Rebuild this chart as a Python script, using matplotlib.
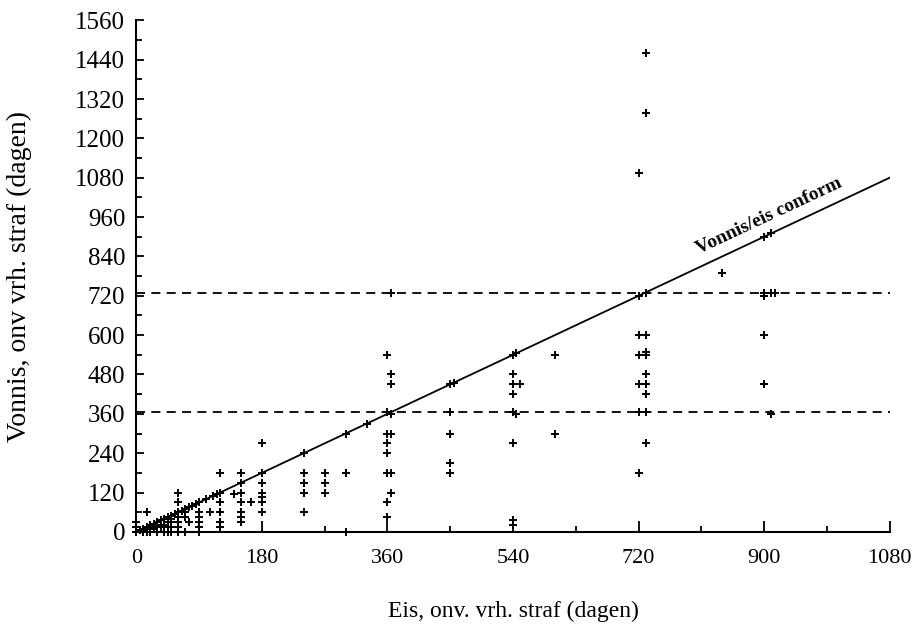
import numpy as np
import matplotlib.pyplot as plt
from matplotlib.ticker import MultipleLocator

plt.rcParams['font.family'] = ['Liberation Serif', 'DejaVu Serif']

# eis (x) en vonnis (y), onvoorwaardelijke vrijheidsstraf in dagen
eis = [730, 730, 720,
       900, 910, 840,
       720, 730, 900, 900, 910, 915,
       900, 900, 910,
       720, 730, 720, 730, 730, 730, 720, 730, 730, 720, 730, 730, 720,
       600, 600,
       540, 545, 540, 540, 550, 540, 540, 545, 540, 540, 540,
       450, 455, 450, 450, 450, 450,
       365, 360, 365, 365, 360, 365, 360, 365, 360, 360, 360, 365, 365, 360, 360,
       330, 300, 300, 300,
       270, 270, 270,
       240, 240, 240, 240, 240,
       180, 180, 180, 180, 180, 180, 180,
       150, 150, 150, 150, 165, 150, 150, 150,
       140,
       120, 120, 120, 120, 120, 120,
       105,
       90, 90, 90, 90, 90, 90,
       60, 60, 60, 60, 60, 60, 60,
       70, 70, 75, 15,
       0, 5, 10, 15, 20, 25, 30, 35, 40, 45, 50, 55, 65, 70, 75, 80, 85, 100, 110, 115,
       0, 10, 15, 20, 30, 40, 45, 50, 70,
       20, 30, 40, 45, 50, 40, 45, 50, 50, 20, 0, 0, 10, 30, 35, 25]
vonnis = [1460, 1278, 1095,
          900, 910, 790,
          720, 730, 730, 720, 730, 730,
          600, 450, 360,
          600, 600, 540, 540, 550, 480, 450, 450, 420, 365, 365, 270, 180,
          540, 300,
          540, 545, 480, 450, 450, 420, 365, 360, 270, 35, 20,
          450, 455, 365, 300, 210, 180,
          730, 540, 480, 450, 365, 360, 300, 300, 270, 240, 180, 180, 120, 90, 45,
          330, 300, 180, 0,
          180, 150, 120,
          240, 180, 150, 120, 60,
          270, 180, 150, 120, 105, 90, 60,
          180, 150, 120, 90, 90, 60, 45, 30,
          115,
          180, 120, 90, 60, 30, 15,
          60,
          90, 60, 45, 30, 15, 0,
          120, 90, 60, 45, 30, 15, 0,
          60, 45, 30, 60,
          0, 5, 10, 15, 20, 25, 30, 35, 40, 45, 50, 55, 65, 70, 75, 80, 85, 100, 110, 115,
          0, 0, 0, 0, 0, 0, 0, 0, 0,
          15, 15, 15, 15, 15, 20, 30, 30, 40, 10, 15, 30, 5, 20, 15, 10]

jaar = 365

fig = plt.figure(figsize=(9.21, 6.34), dpi=100)
ax = fig.add_axes([0.148, 0.161, 0.818, 0.807])

ax.plot([0, 1080], [0, 1080], color='black', lw=1.3)
ax.axhline(jaar, color='black', lw=1.3, ls=(0, (5, 3.5)))
ax.axhline(2 * jaar, color='black', lw=1.3, ls=(0, (5, 3.5)))
ax.plot(eis, vonnis, ls='None', marker='+', color='black', ms=6, mew=1.4, clip_on=False, zorder=3)

ax.text(912, 940, 'Vonnis/eis conform', rotation=45, transform_rotates_text=True,
        rotation_mode='anchor', ha='center', va='bottom', fontsize=14, fontweight='bold')

ax.set_xlim(0, 1080)
ax.set_ylim(0, 1560)
ax.xaxis.set_major_locator(MultipleLocator(180))
ax.xaxis.set_minor_locator(MultipleLocator(90))
ax.yaxis.set_major_locator(MultipleLocator(120))
ax.yaxis.set_minor_locator(MultipleLocator(60))
ax.tick_params(which='both', direction='in', width=1.3)
ax.tick_params(axis='x', which='major', length=8, pad=12, labelsize=16)
ax.tick_params(axis='x', which='minor', length=4)
ax.tick_params(axis='y', which='major', length=6, pad=8, labelsize=18)
ax.tick_params(axis='y', which='minor', length=4)
for s in ['top', 'right']:
    ax.spines[s].set_visible(False)
for s in ['left', 'bottom']:
    ax.spines[s].set_linewidth(1.5)

ax.set_xlabel('Eis, onv. vrh. straf (dagen)', fontsize=17)
ax.set_ylabel('Vonnis, onv vrh. straf (dagen)', fontsize=20)
ax.xaxis.set_label_coords(0.5, -0.135)
ax.yaxis.set_label_coords(-0.138, 0.5)

fig.savefig('out.png', dpi=100)
